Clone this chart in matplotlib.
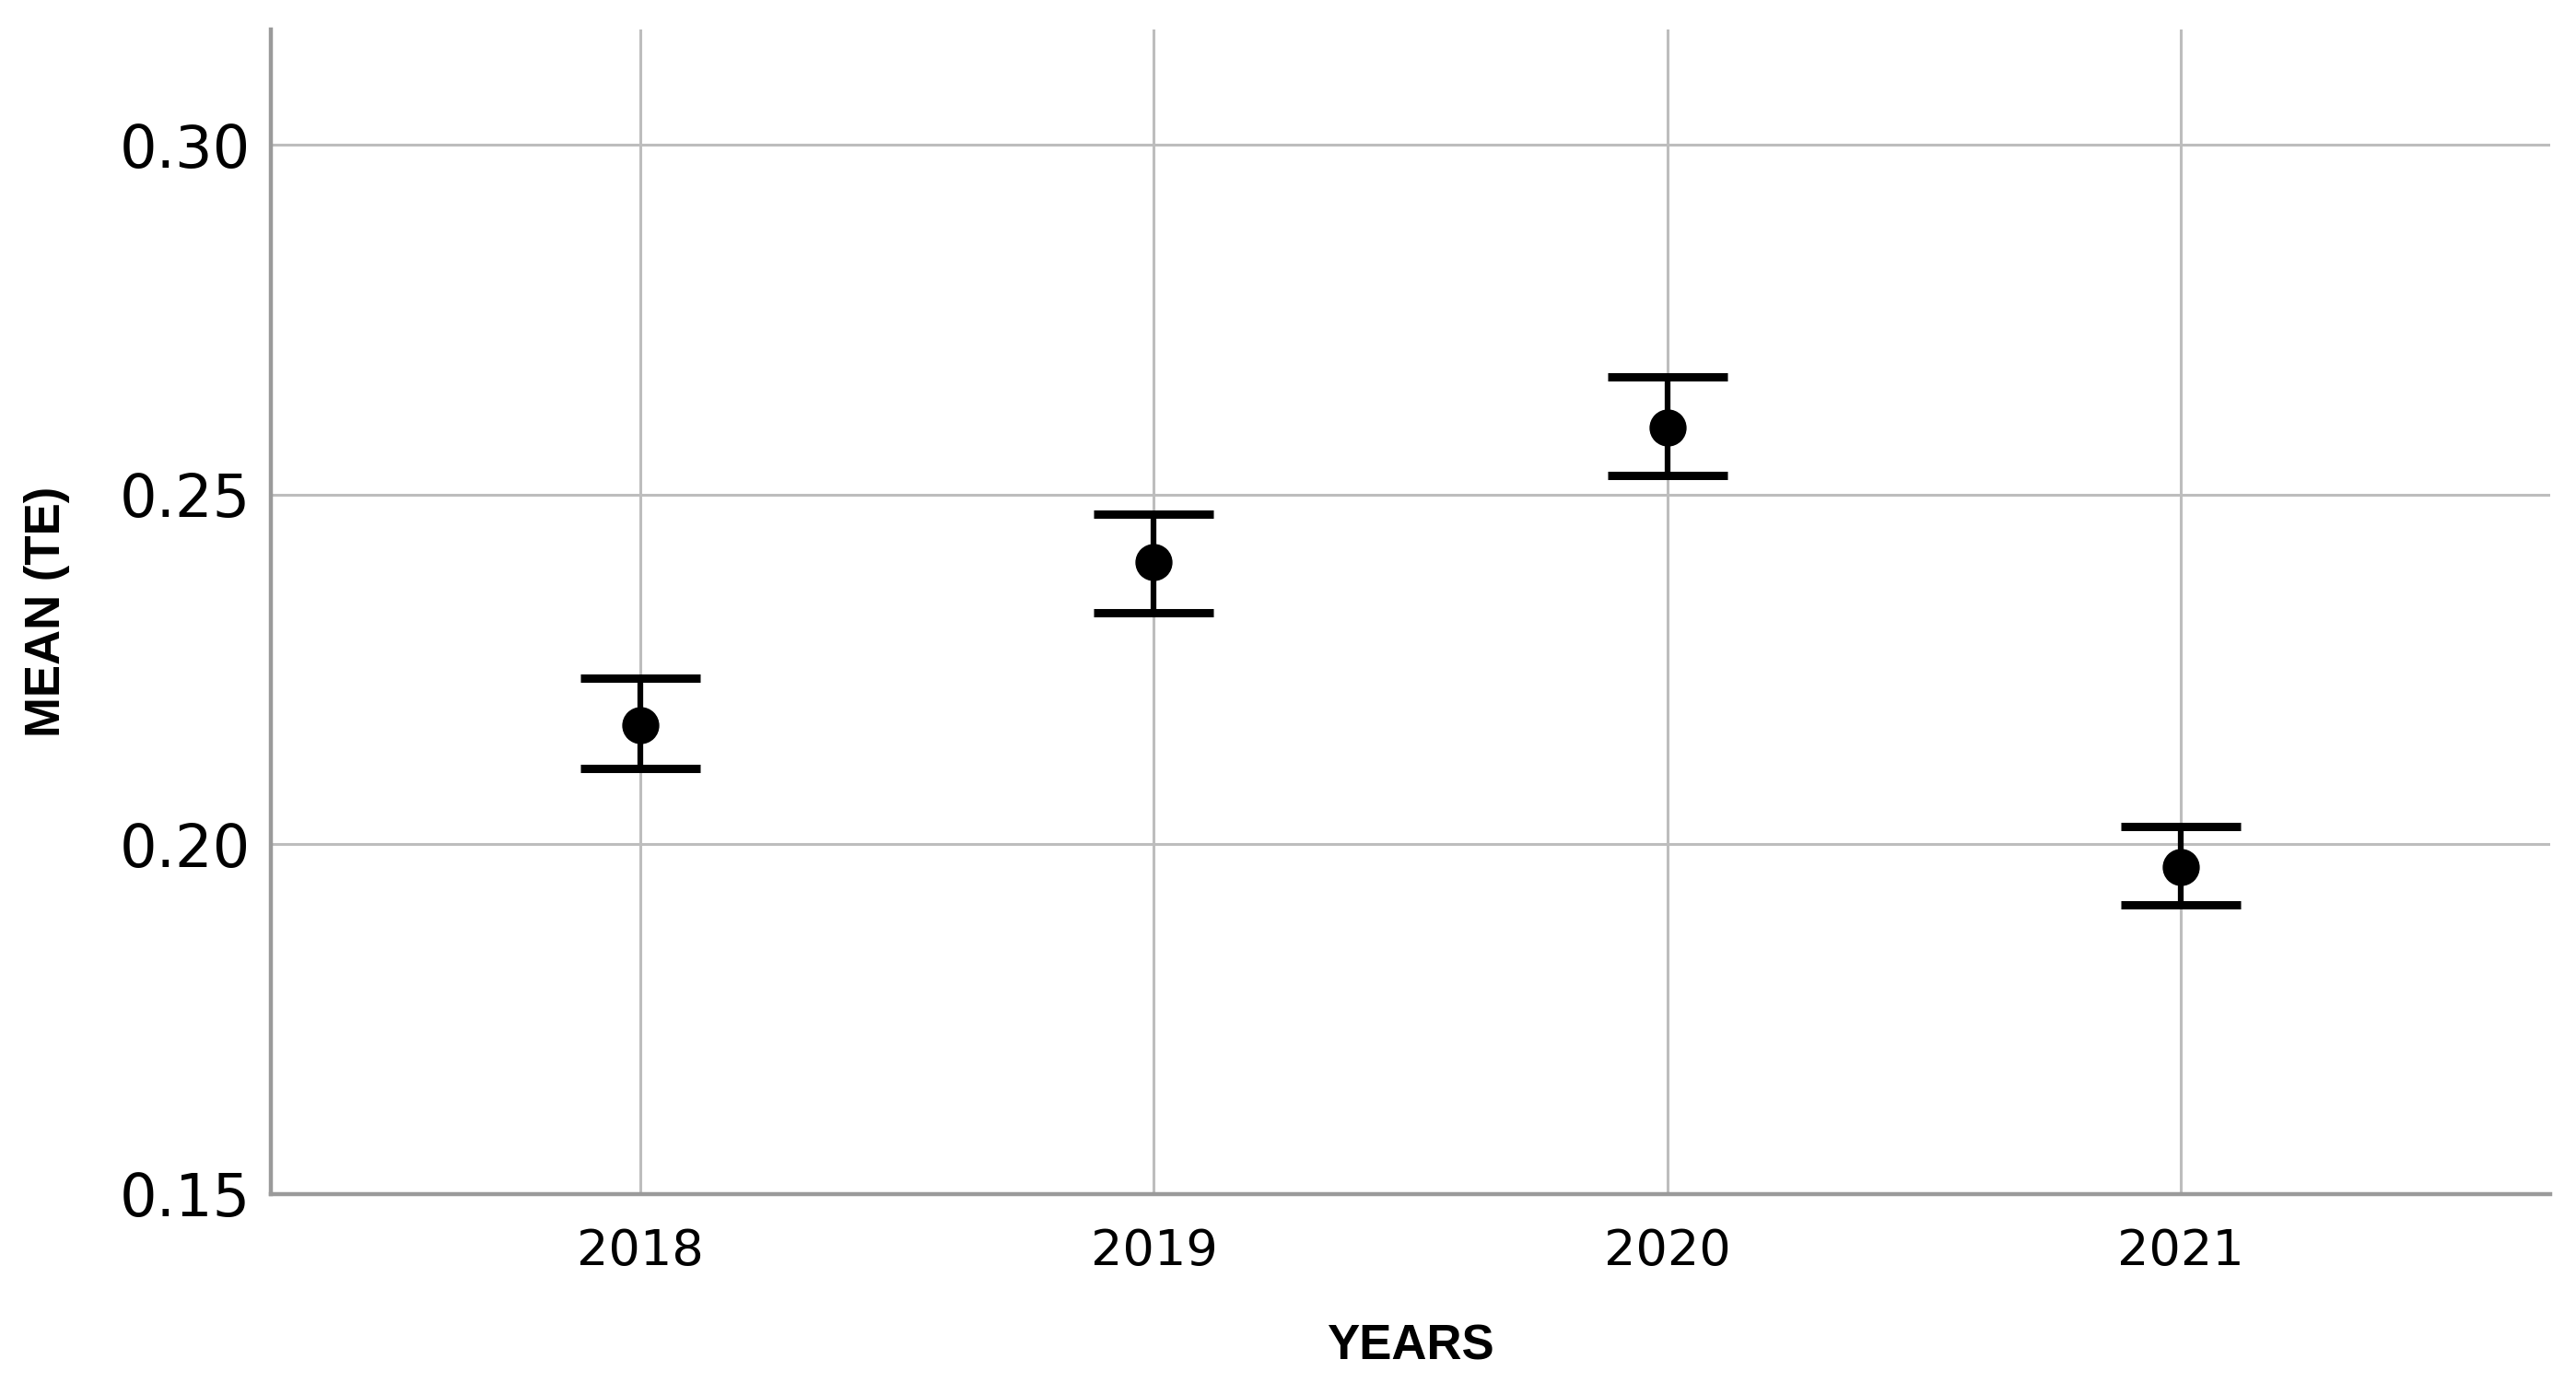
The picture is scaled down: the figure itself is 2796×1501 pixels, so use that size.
import matplotlib
matplotlib.use('Agg')
import matplotlib.pyplot as plt
import numpy as np

# values
years = ['2018', '2019', '2020', '2021']
mean_te = [0.2171, 0.2404, 0.2596, 0.1967]
ci_low = [0.2108, 0.2331, 0.2528, 0.1913]
ci_high = [0.2237, 0.2472, 0.2669, 0.2026]
yticks = [0.15, 0.20, 0.25, 0.30]

x = np.arange(len(years))
mean_arr = np.array(mean_te)
yerr = [mean_arr - np.array(ci_low), np.array(ci_high) - mean_arr]

lab_font = {'family': ['Liberation Sans', 'DejaVu Sans'], 'weight': 'bold', 'size': 38}

fig = plt.figure(figsize=(27.96, 15.01), dpi=100)
ax = fig.add_axes([0.1052, 0.1366, 0.8848, 0.8421])

ax.errorbar(x, mean_te, yerr=yerr, fmt='o', color='black', markersize=28,
            elinewidth=4.5, capsize=47, capthick=6.5, zorder=3)

ax.set_xlim(-0.72, 3.72)
ax.set_ylim(0.15, 0.3165)
ax.set_xticks(x)
ax.set_xticklabels(years)
ax.set_yticks(yticks)
ax.set_yticklabels(['%.2f' % v for v in yticks])

ax.grid(True, color='#bdbdbd', linewidth=2.2, zorder=0)
ax.set_axisbelow(True)

for side in ['top', 'right']:
    ax.spines[side].set_visible(False)
for side in ['left', 'bottom']:
    ax.spines[side].set_color('#9a9a9a')
    ax.spines[side].set_linewidth(3.2)

ax.tick_params(axis='both', length=0)
ax.tick_params(axis='y', labelsize=46, pad=16)
ax.tick_params(axis='x', labelsize=39, pad=26)

ax.set_xlabel('YEARS', fontdict=lab_font, labelpad=38)
ax.set_ylabel('MEAN (TE)', fontdict=lab_font)
ax.yaxis.set_label_coords(-0.088, 0.5)

fig.savefig('out.png', dpi=100)
